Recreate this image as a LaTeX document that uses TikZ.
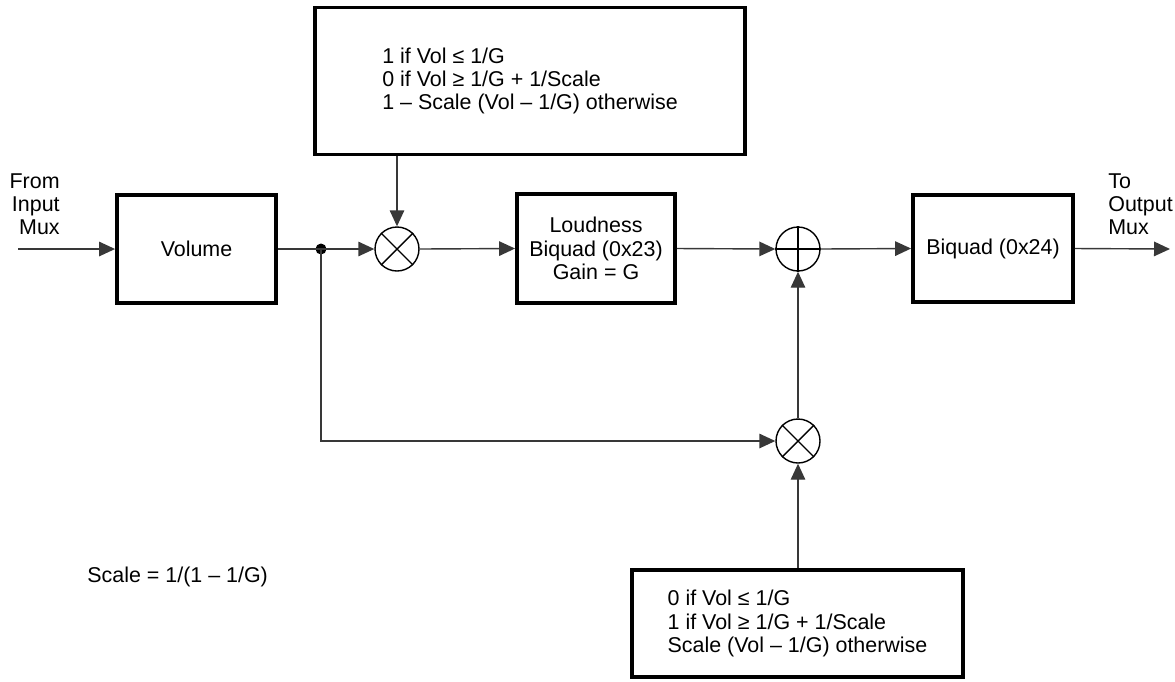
\documentclass[tikz,border=0pt]{standalone}
\usepackage{fontspec}
\setmainfont{Liberation Sans}
\usetikzlibrary{arrows.meta}
\begin{document}
\begin{tikzpicture}[x=0.02cm,y=-0.02cm,
  every node/.style={font=\fontsize{12.2}{13.2}\selectfont},
  blockbox/.style={draw=black,line width=2.2pt,inner sep=0pt,align=center},
  conn/.style={draw=black!78,line width=0.8pt},
  arr/.style={-{Triangle[length=0.32cm,width=0.29cm]}},
  mixer/.style={circle,draw=black,line width=0.8pt,minimum size=0.88cm,inner sep=0pt}
]
\useasboundingbox (0,0) rectangle (1175,681);

% blocks
\node[blockbox,minimum width=3.18cm,minimum height=2.16cm] (vol) at (196.5,249) {Volume};
\node[blockbox,minimum width=3.16cm,minimum height=2.18cm] (loud) at (596,248.5) {Loudness\\Biquad (0x23)\\Gain = G};
\node[blockbox,minimum width=3.2cm,minimum height=2.14cm] (bq) at (993,248.5) {Biquad (0x24)};
\node[blockbox,minimum width=8.6cm,minimum height=2.94cm,align=left] (top) at (530,81)
  {1 if Vol ≤ 1/G\\0 if Vol ≥ 1/G + 1/Scale\\1 – Scale (Vol – 1/G) otherwise};
\node[blockbox,minimum width=6.62cm,minimum height=2.14cm,align=left] (bot) at (797.5,623.5)
  {0 if Vol ≤ 1/G\\1 if Vol ≥ 1/G + 1/Scale\\Scale (Vol – 1/G) otherwise};

% mixers
\node[mixer] (m1) at (397,249) {};
\draw[line width=0.8pt] (m1.north east) -- (m1.south west) (m1.north west) -- (m1.south east);
\node[mixer] (add) at (798,249) {};
\draw[line width=0.8pt] (add.north) -- (add.south) (add.west) -- (add.east);
\node[mixer] (m2) at (798,441) {};
\draw[line width=0.8pt] (m2.north east) -- (m2.south west) (m2.north west) -- (m2.south east);

% junction dot
\node[circle,fill=black,minimum size=0.22cm,inner sep=0pt] (dot) at (321,249) {};

% labels
\node[anchor=east,inner sep=0pt,align=right] (fromlbl) at (60,204) {From\\Input\\Mux};
\node[anchor=west,inner sep=0pt,align=left] (tolbl) at (1108,204) {To\\Output\\Mux};
\node[anchor=west,inner sep=0pt] (scalelbl) at (87,577) {Scale = 1/(1 – 1/G)};

\coordinate (in) at (18,249);
\coordinate (out) at (1170,249);

% connectors
\draw[conn,arr] (in) -- (vol.west);
\draw[conn] (vol.east) -- (dot.center);
\draw[conn,arr] (dot.center) -- (m1.west);
\draw[conn,arr] (m1 |- top.south) -- (m1.north);
\draw[conn,arr] (m1.east) -- (loud.west);
\draw[conn,arr] (loud.east) -- (add.west);
\draw[conn,arr] (add.east) -- (bq.west);
\draw[conn,arr] (bq.east) -- (out);
\draw[conn,arr] (dot.center) |- (m2.west);
\draw[conn,arr] (m2.north) -- (add.south);
\draw[conn,arr] (m2 |- bot.north) -- (m2.south);
\end{tikzpicture}
\end{document}
